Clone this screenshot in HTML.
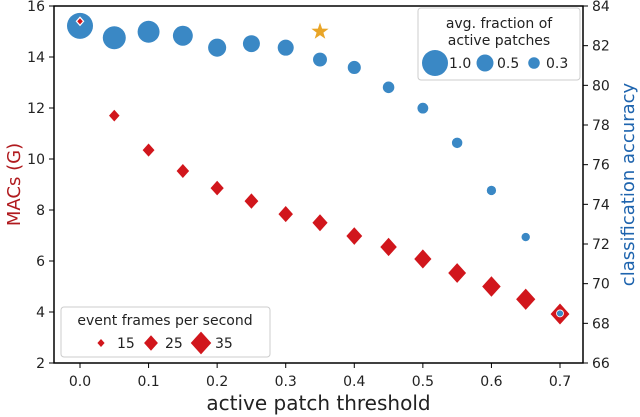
<!DOCTYPE html>
<html><head><meta charset="utf-8"><style>
body{margin:0;background:#fff;}
svg{display:block;font-family:"DejaVu Sans","Liberation Sans",sans-serif;}
</style></head><body>
<svg id="chart" width="640" height="417" viewBox="0 0 640 417"></svg>
<script>
const thresholds=[0,0.05,0.1,0.15,0.2,0.25,0.3,0.35,0.4,0.45,0.5,0.55,0.6,0.65,0.7];
const accuracy=[83.0,82.4,82.7,82.5,81.9,82.1,81.9,81.3,80.9,79.9,78.85,77.1,74.7,72.35,68.5];
const fraction=[1.0,0.81,0.75,0.64,0.55,0.50,0.46,0.38,0.35,0.30,0.28,0.27,0.24,0.22,0.19];
const macs=[15.4,11.7,10.35,9.53,8.86,8.35,7.84,7.5,6.98,6.55,6.08,5.53,5.0,4.5,3.92];
const fps=[15,20,22,23,24,25,26,27,28,29,30,31,32,33,35];
const starPoint=[0.35,15.0];
const xTicks=[0,0.1,0.2,0.3,0.4,0.5,0.6,0.7];
const yLeftTicks=[2,4,6,8,10,12,14,16];
const yRightTicks=[66,68,70,72,74,76,78,80,82,84];
const fracLegend=[1.0,0.5,0.3];
const fpsLegend=[15,25,35];

const svg=document.getElementById('chart');
const NS='http://www.w3.org/2000/svg';
const L=54,R=583,T=6,B=363;
const X=v=>80+(v-0)*(560-80)/0.7;
const YL=v=>B-(v-2)*(B-T)/14;
const YR=v=>B-(v-66)*(B-T)/18;
const rad=f=>Math.sqrt(Math.max(194*f-25,12));
const dsz=f=>4+(f-15)*0.37;
const BLUE='#3a88c5',RED='#d1161c';
function mk(tag,attrs,parent){const e=document.createElementNS(NS,tag);for(const k in attrs)e.setAttribute(k,attrs[k]);(parent||svg).appendChild(e);return e;}
function txt(s,attrs,parent){const e=mk('text',attrs,parent);e.textContent=s;return e;}
function diamond(cx,cy,h,attrs){return mk('polygon',Object.assign({points:`${cx},${cy-h} ${cx+h*0.9},${cy} ${cx},${cy+h} ${cx-h*0.9},${cy}`},attrs));}

const ax=mk('rect',{x:L,y:T,width:R-L,height:B-T,fill:'none',stroke:'#000','stroke-width':1.5});


xTicks.forEach(v=>{const x=X(v);
 const t=mk('line',{x1:x,x2:x,y1:B,y2:B+5,stroke:'#000'});
 const l=txt(v.toFixed(1),{x:x,y:B+23,'text-anchor':'middle','font-size':14,fill:'#222'});});
yLeftTicks.forEach(v=>{const y=YL(v);
 const t=mk('line',{x1:L-5,x2:L,y1:y,y2:y,stroke:'#000'});
 const l=txt(String(v),{x:L-9,y:y+5,'text-anchor':'end','font-size':14,fill:'#222'});});
yRightTicks.forEach(v=>{const y=YR(v);
 const t=mk('line',{x1:R,x2:R+5,y1:y,y2:y,stroke:'#000'});
 const l=txt(String(v),{x:R+9,y:y+5,'font-size':14,fill:'#222'});});

let e;
e=txt('active patch threshold',{x:(L+R)/2,y:410,'text-anchor':'middle','font-size':20,fill:'#222'});
e=txt('MACs (G)',{x:0,y:0,transform:`translate(20,${(T+B)/2}) rotate(-90)`,'text-anchor':'middle','font-size':18,fill:'#b01a1e'});
e=txt('classification accuracy',{x:0,y:0,transform:`translate(634,${(T+B)/2}) rotate(-90)`,'text-anchor':'middle','font-size':18,fill:'#1e64ae'});

thresholds.forEach((t,i)=>{const c=mk('circle',{cx:X(t),cy:YR(accuracy[i]),r:rad(fraction[i]),fill:BLUE});
 });
thresholds.forEach((t,i)=>{const outline=(i===0||i===thresholds.length-1);
 const d=diamond(X(t),YL(macs[i]),dsz(fps[i]),{fill:RED,stroke:outline?'#fff':'none','stroke-width':outline?1.2:0});
 });
{const i=thresholds.length-1;const c=mk('circle',{cx:X(thresholds[i]),cy:YR(accuracy[i]),r:3.5,fill:BLUE,stroke:'#fff','stroke-width':0.8});}
{const cx=X(starPoint[0]),cy=YL(starPoint[1]);let p=[];for(let k=0;k<10;k++){const a=-Math.PI/2+k*Math.PI/5;const r=k%2?3.6:9;p.push((cx+r*Math.cos(a)).toFixed(1)+','+(cy+r*Math.sin(a)).toFixed(1));}
 const s=mk('polygon',{points:p.join(' '),fill:'#e9a527'});}

const g1=mk('g',{});
mk('rect',{x:418,y:8,width:162,height:72,rx:3,fill:'#fff','fill-opacity':0.85,stroke:'#ccc'},g1);
txt('avg. fraction of',{x:499,y:28,'text-anchor':'middle','font-size':14,fill:'#222'},g1);
txt('active patches',{x:499,y:45,'text-anchor':'middle','font-size':14,fill:'#222'},g1);
const fx=[435,485,534];
fracLegend.forEach((f,i)=>{const c=mk('circle',{cx:fx[i],cy:63,r:rad(f),fill:BLUE},g1);
 const l=txt(f.toFixed(1),{x:fx[i]+14-(i===0?0:2),y:68,'font-size':14,fill:'#222'},g1);});

const g2=mk('g',{});
mk('rect',{x:61,y:307,width:209,height:50,rx:3,fill:'#fff','fill-opacity':0.85,stroke:'#ccc'},g2);
txt('event frames per second',{x:165,y:325,'text-anchor':'middle','font-size':14,fill:'#222'},g2);
const px=[101,151,201];
fpsLegend.forEach((f,i)=>{const d=diamond(px[i],343,dsz(f),{fill:RED});g2.appendChild(d);
 const l=txt(String(f),{x:px[i]+16-(i===0?0:2),y:348,'font-size':14,fill:'#222'},g2);});
</script>
</body></html>
